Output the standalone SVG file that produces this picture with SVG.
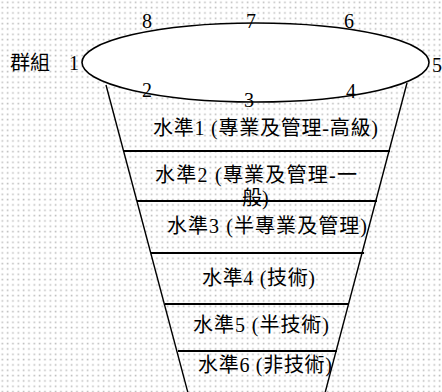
<svg xmlns="http://www.w3.org/2000/svg" width="442" height="392" viewBox="0 0 442 392">
<style>
.t{font-family:"Liberation Serif","Noto Sans CJK TC",serif;font-size:20px;fill:#000}
.side{stroke:#000;stroke-width:1.4;fill:none}
.bar{stroke:#000;stroke-width:2.2;fill:none}
</style>
<defs>
<pattern id="dots" x="0" y="0" width="5.333" height="5.333" patternUnits="userSpaceOnUse">
<rect x="1.5" y="1.5" width="1.6" height="1.6" fill="#bdbdbd"/>
</pattern>
</defs>
<rect width="442" height="392" fill="#fff"/>
<rect width="442" height="392" fill="url(#dots)"/>
<g id="connectors">
<line class="side" x1="106" y1="85" x2="188" y2="393"/>
<line class="side" x1="407" y1="83" x2="325" y2="393"/>
<line class="bar" x1="123" y1="151" x2="390" y2="151"/>
<line class="bar" x1="137" y1="201" x2="377" y2="201"/>
<line class="bar" x1="151" y1="253" x2="364" y2="253"/>
<line class="bar" x1="165" y1="304" x2="348" y2="304"/>
<line class="bar" x1="178" y1="351" x2="337" y2="351"/>
</g>
<g id="group">
<ellipse cx="255.5" cy="62.5" rx="173.5" ry="39.5" fill="#fff" stroke="#000" stroke-width="1.6"/>
<text class="t" x="10" y="70" textLength="40" lengthAdjust="spacing">群組</text>
<text class="t" x="69" y="70">1</text>
<text class="t" x="142" y="97">2</text>
<text class="t" x="244" y="107">3</text>
<text class="t" x="346" y="98">4</text>
<text class="t" x="432" y="72">5</text>
<text class="t" x="344" y="28">6</text>
<text class="t" x="246" y="28">7</text>
<text class="t" x="142" y="28">8</text>
</g>
<g id="level1"><text class="t" x="153" y="135" textLength="225" lengthAdjust="spacing">水準1 (專業及管理-高級)</text></g>
<g id="level2"><text class="t" x="155" y="182" textLength="202" lengthAdjust="spacing">水準2 (專業及管理-一</text><text class="t" x="242" y="205">般)</text></g>
<g id="level3"><text class="t" x="167" y="233" textLength="200" lengthAdjust="spacing">水準3 (半專業及管理)</text></g>
<g id="level4"><text class="t" x="202" y="285" textLength="113" lengthAdjust="spacing">水準4 (技術)</text></g>
<g id="level5"><text class="t" x="193" y="332" textLength="136" lengthAdjust="spacing">水準5 (半技術)</text></g>
<g id="level6"><text class="t" x="198" y="372" textLength="134" lengthAdjust="spacing">水準6 (非技術)</text></g>
</svg>
